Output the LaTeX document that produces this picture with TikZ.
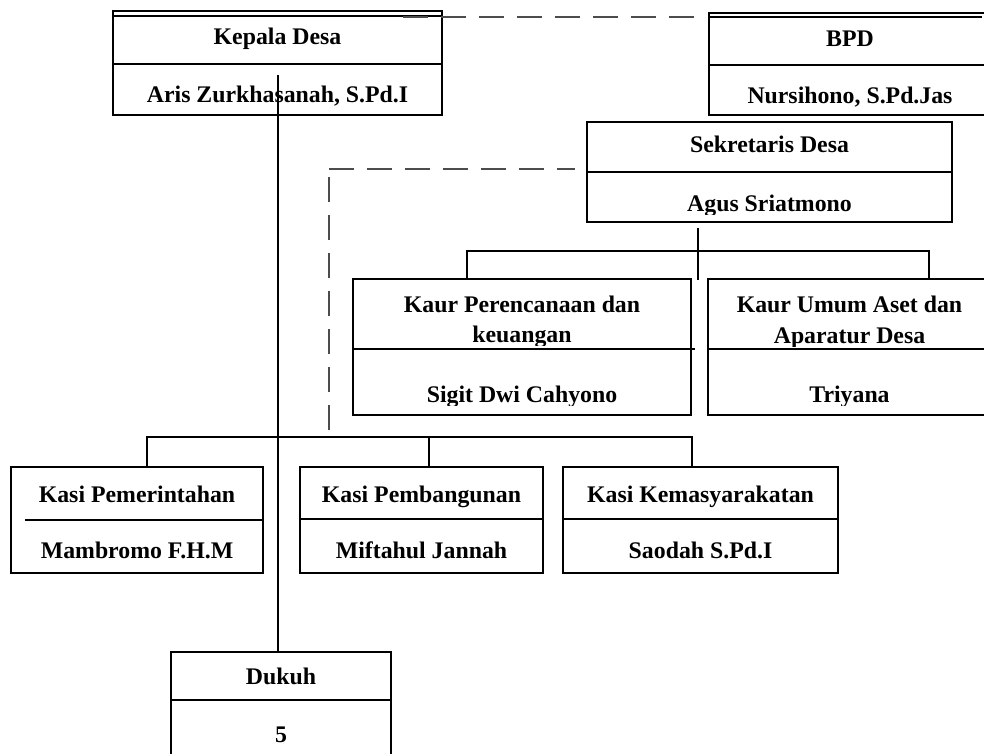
\documentclass[tikz,border=0pt]{standalone}
\usepackage{fontspec}
\setmainfont{Liberation Serif}
\begin{document}
\begin{tikzpicture}[x=1pt,y=-1pt,
  box/.style={draw, line width=1.2pt, inner sep=0pt, outer sep=0pt},
  conn/.style={line width=1.2pt},
  dsh/.style={line width=1.3pt, draw=black!70, dash pattern=on 25pt off 13pt},
  lbl/.style={anchor=base, inner sep=0pt, font=\fontsize{23.8}{31}\selectfont\bfseries}]
\useasboundingbox (0,0) rectangle (984,754);
% boxes
\node[box, minimum width=329pt, minimum height=104pt] (kepala) at (277.5,63) {};
\node[box, minimum width=282pt, minimum height=102pt] (bpd) at (850,64) {};
\node[box, minimum width=365pt, minimum height=100pt] (sek) at (769.5,172) {};
\node[box, minimum width=338pt, minimum height=136pt] (kp) at (522,347) {};
\node[box, minimum width=283pt, minimum height=136pt] (ku) at (849.5,347) {};
\node[box, minimum width=252pt, minimum height=106pt] (k1) at (137,520) {};
\node[box, minimum width=243pt, minimum height=106pt] (k2) at (421.5,520) {};
\node[box, minimum width=275pt, minimum height=106pt] (k3) at (700.5,520) {};
\node[box, minimum width=220pt, minimum height=138pt] (dukuh) at (281,721) {};
% extra lines and dividers
\draw[conn] (kepala.west |- 0,16) -- (kepala.east |- 0,16);
\draw[conn] (kepala.west |- 0,64) -- (kepala.east |- 0,64);
\draw[conn] (bpd.west |- 0,17) -- (982,17);
\draw[conn] (bpd.west |- 0,65) -- (bpd.east |- 0,65);
\draw[conn] (sek.west) -- (sek.east);
\draw[conn] (kp.west |- 0,349) -- (695,349);
\draw[conn] (ku.west |- 0,349) -- (ku.east |- 0,349);
\draw[conn] (25,520) -- (k1.east |- 0,520);
\draw[conn] (k2.west |- 0,519) -- (k2.east |- 0,519);
\draw[conn] (k3.west |- 0,519) -- (k3.east |- 0,519);
\draw[conn] (dukuh.west |- 0,700) -- (dukuh.east |- 0,700);
% texts
\node[lbl] (t1) at (277.5,44.5) {Kepala Desa};
\node[lbl] (t2) at (277.5,103) {Aris Zurkhasanah, S.Pd.I};
\node[lbl] (t3) at (850,46.5) {BPD};
\node[lbl] (t4) at (850,103.5) {Nursihono, S.Pd.Jas};
\node[lbl] (t5) at (769.5,153) {Sekretaris Desa};
\begin{scope}
\clip (587,172) rectangle (952,214);
\node[lbl] (t6) at (769.5,211.5) {Agus Sriatmono};
\end{scope}
\begin{scope}
\clip (353,279) rectangle (691,345.5);
\node[lbl] (t7) at (522,312) {Kaur Perencanaan dan};
\node[lbl] (t8) at (522,342) {keuangan};
\end{scope}
\begin{scope}
\clip (353,349) rectangle (691,405);
\node[lbl] (t9) at (522,402) {Sigit Dwi Cahyono};
\end{scope}
\begin{scope}
\clip (708,279) rectangle (991,346.5);
\node[lbl] (t10) at (849.5,312) {Kaur Umum Aset dan};
\node[lbl] (t11) at (849.5,343) {Aparatur Desa};
\end{scope}
\begin{scope}
\clip (708,349) rectangle (991,405.5);
\node[lbl] (t12) at (849.5,402.5) {Triyana};
\end{scope}
\node[lbl] (t13) at (137,502) {Kasi Pemerintahan};
\node[lbl] (t14) at (137,558.5) {Mambromo F.H.M};
\node[lbl] (t15) at (421.5,502) {Kasi Pembangunan};
\node[lbl] (t16) at (421.5,558.5) {Miftahul Jannah};
\node[lbl] (t17) at (700.5,502) {Kasi Kemasyarakatan};
\node[lbl] (t18) at (700.5,558.5) {Saodah S.Pd.I};
\node[lbl] (t19) at (281,684) {Dukuh};
\node[lbl] (t20) at (281,742) {5};
% connectors
\coordinate (kv) at (278,75);
\draw[conn] (kv) -- (kv |- dukuh.north);
\coordinate (ds) at (403,17);
\coordinate (de) at (704,17);
\draw[dsh] (ds) -- (de);
\coordinate (sd1) at (329,169);
\coordinate (sd2) at (575,169);
\coordinate (sd3) at (329,177);
\coordinate (sd4) at (329,432);
\draw[dsh] (sd1) -- (sd2);
\draw[dsh] (sd3) -- (sd4);
\coordinate (sv1) at (698,228);
\coordinate (sv2) at (698,280);
\draw[conn] (sv1) -- (sv2);
\coordinate (b1) at (467,251);
\coordinate (b2) at (929,251);
\draw[conn] (b1 |- kp.north) -- (b1) -- (b2) -- (b2 |- ku.north);
\coordinate (c1) at (147,437);
\coordinate (c2) at (429,437);
\coordinate (c3) at (692,437);
\draw[conn] (c1 |- k1.north) -- (c1) -- (c3) -- (c3 |- k3.north);
\draw[conn] (c2) -- (c2 |- k2.north);
\end{tikzpicture}
\end{document}
